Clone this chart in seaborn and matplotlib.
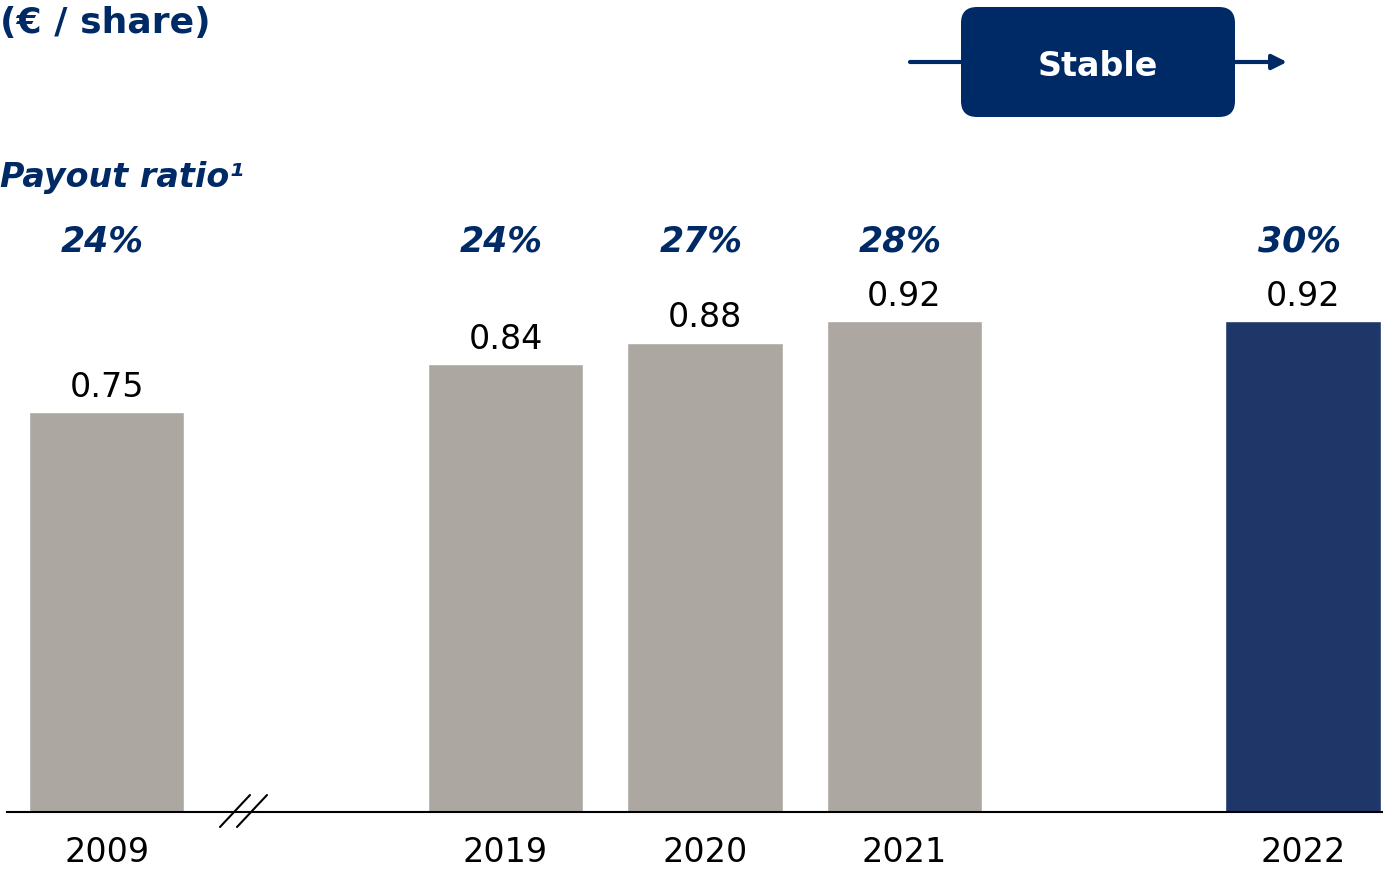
import matplotlib
matplotlib.use("Agg")
import matplotlib.pyplot as plt
from matplotlib.patches import FancyBboxPatch, FancyArrowPatch
from matplotlib.lines import Line2D
import pandas as pd
import seaborn as sns

# data
years = ["2009", "2019", "2020", "2021", "2022"]
dividend = [0.75, 0.84, 0.88, 0.92, 0.92]
payout = ["24%", "24%", "27%", "28%", "30%"]
slots = ["2009", "gap1", "2019", "2020", "2021", "gap2", "2022"]
bar_colors = {"2009": "#ACA7A1", "2019": "#ACA7A1", "2020": "#ACA7A1",
              "2021": "#ACA7A1", "2022": "#1F3768"}

NAVY = "#002A66"

df = pd.DataFrame({"year": years, "dividend": dividend})

sns.set_theme(style="white")
plt.rcParams["font.family"] = ["DejaVu Sans"]

fig = plt.figure(figsize=(13.83, 8.69), dpi=100)
ax = fig.add_axes([7 / 1383, 57 / 869, 1376 / 1383, 812 / 869])

sns.barplot(data=df, x="year", y="dividend", hue="year", order=slots,
            palette=bar_colors, width=0.78, saturation=1, legend=False, ax=ax)

ax.set_xlim(-0.5, 6.4)
ax.set_ylim(0, 812 / 533.3)

for c in ax.containers:
    ax.bar_label(c, fmt="%.2f", padding=6, fontsize=24, color="black")

for y, p in zip(years, payout):
    ax.text(slots.index(y) - 0.02, 1.069, p, ha="center", va="center",
            fontsize=25, fontweight="bold", style="italic", color=NAVY)

ax.set_xticks([slots.index(y) for y in years])
ax.set_xticklabels(years, fontsize=24, color="black")
ax.tick_params(axis="x", length=0, pad=17.5)
ax.set_yticks([])
ax.set_xlabel("")
ax.set_ylabel("")
for s in ["left", "right", "top"]:
    ax.spines[s].set_visible(False)
ax.spines["bottom"].set_color("black")
ax.spines["bottom"].set_linewidth(1.5)

# axis break marks
inch = fig.dpi_scale_trans
for x0 in [2.20, 2.37]:
    fig.add_artist(Line2D([x0, x0 + 0.30], [0.42, 0.74], color="black",
                          lw=1.5, transform=inch))

# headings
fig.text(0.0, 1 - 23 / 869, "(€ / share)", ha="left", va="center",
         fontsize=26, fontweight="bold", color=NAVY)
fig.text(0.0, 1 - 177 / 869, "Payout ratio¹", ha="left", va="center",
         fontsize=24, fontweight="bold", style="italic", color=NAVY)

# "Stable" box with arrow
fig.add_artist(FancyBboxPatch((9.61, 7.52), 2.74, 1.10,
                              boxstyle="round,pad=0,rounding_size=0.16",
                              fc=NAVY, ec="none", transform=inch))
fig.add_artist(Line2D([9.10, 9.61], [8.07, 8.07], color=NAVY, lw=3,
                      transform=inch))
fig.add_artist(FancyArrowPatch((12.35, 8.07), (12.87, 8.07), transform=inch,
                               arrowstyle="-|>", mutation_scale=22, lw=3,
                               color=NAVY, shrinkA=0, shrinkB=0))
fig.text(10.98 / 13.83, 8.02 / 8.69, "Stable", ha="center", va="center",
         fontsize=24, fontweight="bold", color="white")

fig.savefig("out.png", dpi=100)
